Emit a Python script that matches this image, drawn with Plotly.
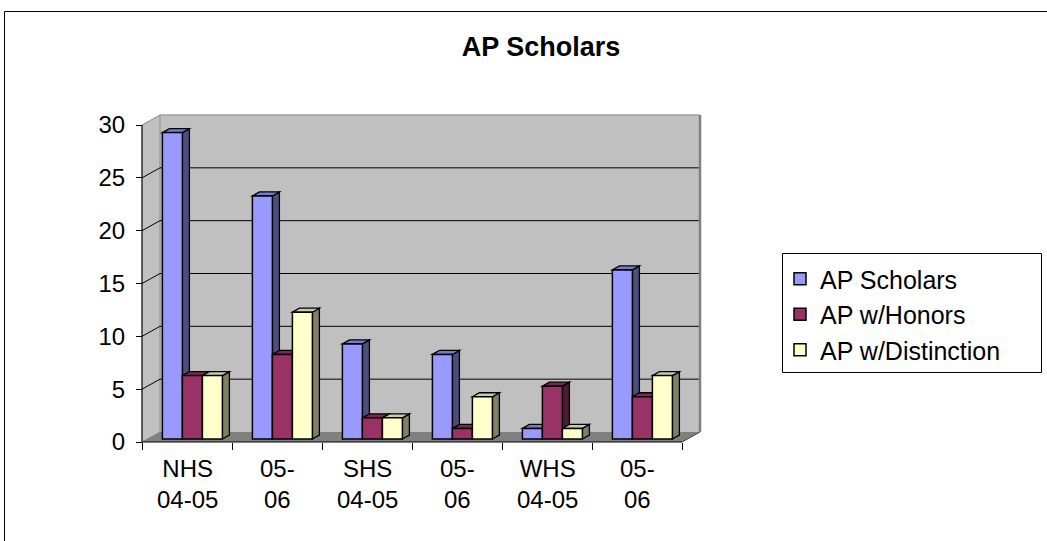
import plotly.graph_objects as go

# ---------------- data ----------------
categories = ["NHS 04-05", "05-06", "SHS 04-05", "05-06", "WHS 04-05", "05-06"]
cat_line1 = ["NHS", "05-", "SHS", "05-", "WHS", "05-"]
cat_line2 = ["04-05", "06", "04-05", "06", "04-05", "06"]
series_names = ["AP Scholars", "AP w/Honors", "AP w/Distinction"]
ap_scholars = [29, 23, 9, 8, 1, 16]
ap_honors = [6, 8, 2, 1, 5, 4]
ap_distinction = [6, 12, 2, 4, 1, 6]
y_ticks = [0, 5, 10, 15, 20, 25, 30]
chart_title = "AP Scholars"

# ---------------- style ----------------
front_colors = ["#9999FF", "#993366", "#FFFFCC"]
side_colors = ["#4D4D80", "#4D1A33", "#808066"]
top_colors = ["#7A7ACC", "#7A2952", "#CCCCA3"]
FONT = "Liberation Sans, Arial, sans-serif"

W, H = 1047, 541
X_UNIT = 90.0            # px per category
X_ORIGIN_PX = 142.0      # pixel of x=-0.5 (front plane)
Y_UNIT = 317.0 / 30.0    # px per value unit
Y_ORIGIN_PX = 442.0      # pixel of y=0 (front plane)


def fx(px):
    return px / W


def fy(py):
    return 1 - py / H


def x_px(v):
    return X_ORIGIN_PX + (v + 0.5) * X_UNIT


def y_px(v):
    return Y_ORIGIN_PX - v * Y_UNIT


x_range = [-0.8, 6.0]
y_range = [-1.5, 33.0]
x_dom = [fx(x_px(x_range[0])), fx(x_px(x_range[1]))]
y_dom = [fy(y_px(y_range[0])), fy(y_px(y_range[1]))]

# bars sit slightly behind the front plane
BAR_SHIFT_X, BAR_SHIFT_Y = 5.4, 3.0
x2_dom = [d + BAR_SHIFT_X / W for d in x_dom]
y2_dom = [d + BAR_SHIFT_Y / H for d in y_dom]

WALL_DX = 18.0 / X_UNIT
WALL_DY = 10.0 / Y_UNIT
BAR_DX = 7.0 / X_UNIT
BAR_DY = 4.0 / Y_UNIT

n_cat = len(categories)
ymax = y_ticks[-1]
x_lo, x_hi = -0.5, n_cat - 0.5
bargap = 1.0 / 3.0
group_w = 1 - bargap
series = [ap_scholars, ap_honors, ap_distinction]
bw = group_w / len(series)

shapes = []
# outer chart border and legend box (paper)
shapes.append(dict(type="rect", xref="paper", yref="paper", x0=fx(4.5), y0=fy(11.5),
                   x1=fx(1060), y1=fy(570), line=dict(color="black", width=1),
                   fillcolor="rgba(0,0,0,0)", layer="below"))
shapes.append(dict(type="rect", xref="paper", yref="paper", x0=fx(782.5), y0=fy(253.5),
                   x1=fx(1041.5), y1=fy(372.5), line=dict(color="black", width=1),
                   fillcolor="white", layer="below"))

# walls & floor (front-plane axes)
shapes.append(dict(type="rect", xref="x", yref="y", x0=x_lo + WALL_DX, x1=x_hi + WALL_DX,
                   y0=WALL_DY, y1=ymax + WALL_DY, fillcolor="#C0C0C0", line=dict(width=0),
                   layer="below"))
shapes.append(dict(type="path", xref="x", yref="y",
                   path=f"M{x_lo},0 L{x_lo},{ymax} L{x_lo + WALL_DX},{ymax + WALL_DY} "
                        f"L{x_lo + WALL_DX},{WALL_DY} Z",
                   fillcolor="#C0C0C0", line=dict(color="#8C8C8C", width=1), layer="below"))
shapes.append(dict(type="path", xref="x", yref="y",
                   path=f"M{x_lo},0 L{x_hi},0 L{x_hi + WALL_DX},{WALL_DY} L{x_lo + WALL_DX},{WALL_DY} Z",
                   fillcolor="#808080", line=dict(width=0), layer="below"))
for v in y_ticks[1:-1]:
    shapes.append(dict(type="line", xref="x", yref="y", x0=x_lo + WALL_DX, x1=x_hi + WALL_DX,
                       y0=v + WALL_DY, y1=v + WALL_DY, line=dict(color="black", width=1),
                       layer="below"))
    shapes.append(dict(type="line", xref="x", yref="y", x0=x_lo, x1=x_lo + WALL_DX,
                       y0=v, y1=v + WALL_DY, line=dict(color="black", width=1), layer="below"))
shapes.append(dict(type="line", xref="x", yref="y", x0=x_lo + WALL_DX, x1=x_hi + WALL_DX,
                   y0=ymax + WALL_DY, y1=ymax + WALL_DY, line=dict(color="#A0A0A0", width=1.5),
                   layer="below"))
shapes.append(dict(type="line", xref="x", yref="y", x0=x_hi + WALL_DX, x1=x_hi + WALL_DX,
                   y0=WALL_DY, y1=ymax + WALL_DY, line=dict(color="#808080", width=2.5),
                   layer="below"))
shapes.append(dict(type="line", xref="x", yref="y", x0=x_hi, x1=x_hi + WALL_DX,
                   y0=0, y1=WALL_DY, line=dict(color="#404040", width=1), layer="below"))
# front axis lines
shapes.append(dict(type="line", xref="x", yref="y", x0=x_lo, x1=x_lo, y0=0, y1=ymax,
                   line=dict(color="black", width=1), layer="below"))
shapes.append(dict(type="line", xref="x", yref="y", x0=x_lo, x1=x_hi, y0=0, y1=0,
                   line=dict(color="black", width=1), layer="below"))

# 3-D faces of bars (bar-plane axes)
side_shapes, top_shapes = [], []
for s, vals in enumerate(series):
    for c, v in enumerate(vals):
        left = c - group_w / 2 + s * bw
        right = left + bw
        side_shapes.append(dict(
            type="path", xref="x2", yref="y2", layer="below",
            path=f"M{right},0 L{right},{v} L{right + BAR_DX},{v + BAR_DY} L{right + BAR_DX},{BAR_DY} Z",
            fillcolor=side_colors[s], line=dict(color="black", width=1.3)))
        top_shapes.append(dict(
            type="path", xref="x2", yref="y2", layer="below",
            path=f"M{left},{v} L{right},{v} L{right + BAR_DX},{v + BAR_DY} L{left + BAR_DX},{v + BAR_DY} Z",
            fillcolor=top_colors[s], line=dict(color="black", width=1.3)))
shapes += side_shapes + top_shapes

fig = go.Figure()
for s, vals in enumerate(series):
    fig.add_trace(go.Bar(
        x=list(range(n_cat)), y=vals, name=series_names[s],
        xaxis="x2", yaxis="y2",
        marker=dict(color=front_colors[s], line=dict(color="black", width=1.5)),
        hovertext=categories,
    ))

annotations = []
for c in range(n_cat):
    annotations.append(dict(
        x=c, xref="x", y=fy(484), yref="paper",
        text=f"{cat_line1[c]}<br>{cat_line2[c]}", showarrow=False,
        xanchor="center", yanchor="middle",
        font=dict(family=FONT, size=24, color="black")))

fig.update_layout(
    width=W, height=H, autosize=False,
    margin=dict(l=0, r=0, t=0, b=0),
    paper_bgcolor="white", plot_bgcolor="rgba(0,0,0,0)",
    barmode="group", bargap=bargap, bargroupgap=0,
    title=dict(text=chart_title, x=fx(541), xanchor="center", y=fy(47), yanchor="middle",
               font=dict(family=FONT, size=27, color="black", weight="bold")),
    xaxis=dict(range=x_range, domain=x_dom, anchor="free", position=fy(Y_ORIGIN_PX),
               tickvals=[c - 0.5 for c in range(n_cat + 1)],
               ticktext=["" for _ in range(n_cat + 1)],
               ticks="outside", ticklen=7, tickcolor="black", tickwidth=1,
               showgrid=False, zeroline=False, showline=False, fixedrange=True),
    yaxis=dict(range=y_range, domain=y_dom, anchor="free", position=fx(X_ORIGIN_PX),
               tickvals=y_ticks, ticktext=[str(t) for t in y_ticks],
               ticks="outside", ticklen=6, tickcolor="black", tickwidth=1,
               ticklabelstandoff=6,
               tickfont=dict(family=FONT, size=24, color="black"),
               showgrid=False, zeroline=False, showline=False, fixedrange=True),
    xaxis2=dict(range=x_range, domain=x2_dom, anchor="y2", visible=False, fixedrange=True),
    yaxis2=dict(range=y_range, domain=y2_dom, anchor="x2", visible=False, fixedrange=True),
    legend=dict(x=fx(780), y=fy(256), xanchor="left", yanchor="top",
                bgcolor="rgba(0,0,0,0)", borderwidth=0,
                font=dict(family=FONT, size=25, color="black"), traceorder="normal"),
    shapes=shapes,
    annotations=annotations,
    showlegend=True,
)

fig.write_html("out.html",
               config={"displayModeBar": False},
               post_script="document.body.style.margin='0';document.body.style.overflow='hidden';")
